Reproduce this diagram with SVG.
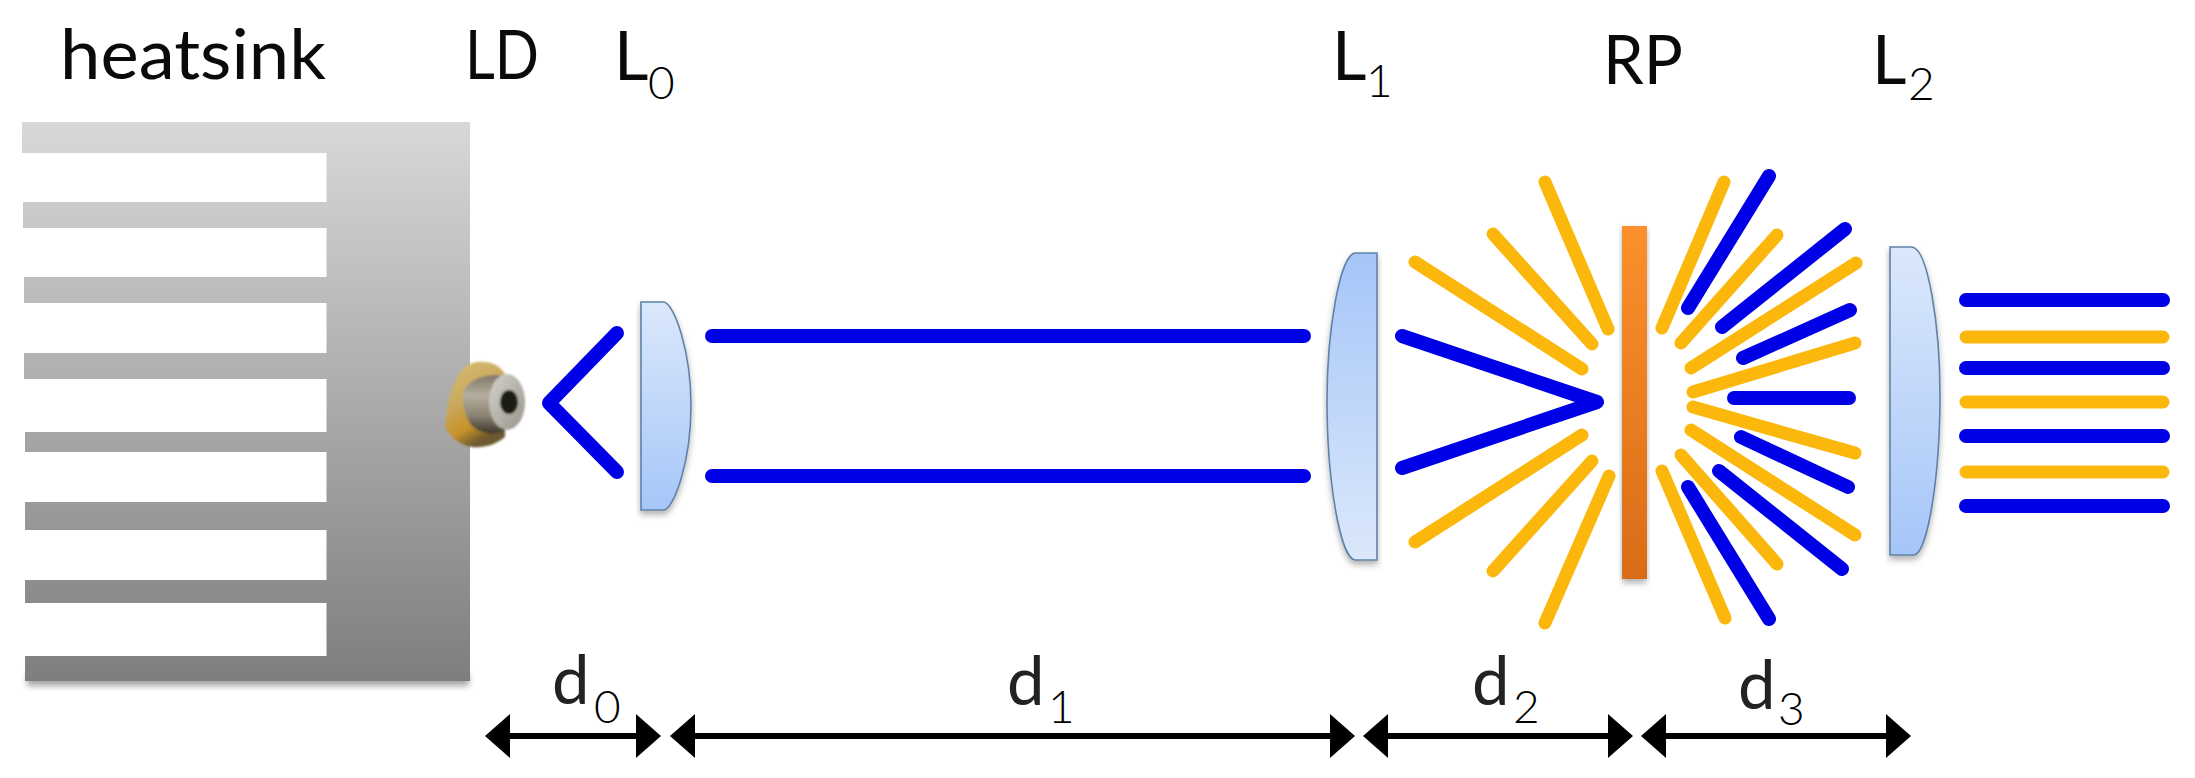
<svg xmlns="http://www.w3.org/2000/svg" width="2195" height="778" viewBox="0 0 2195 778">
<style>
text{font-family:"Lato","Carlito","Liberation Sans",sans-serif;fill:#0a0a0a}
.m{font-size:67px}.s{font-size:46px}.t{font-size:46px;font-weight:300;fill:#000}.d{font-size:67px;fill:#222}
.b,.y{fill:none;stroke-linecap:round;stroke-linejoin:round}
.b{stroke:#0000e6;stroke-width:14px}
.y{stroke:#fbb70b;stroke-width:13px}
.a{stroke:#000;stroke-width:6px;fill:none;marker-start:url(#hs);marker-end:url(#he)}
.lens{stroke:#5f82a8;stroke-width:1.6px;filter:url(#sh)}
</style>
<defs>
<linearGradient id="hg" x1="0" y1="0" x2="0" y2="1"><stop offset="0" stop-color="#d8d8d8"/><stop offset="1" stop-color="#7e7e7e"/></linearGradient>
<linearGradient id="ld" x1="0" y1="0" x2="0" y2="1"><stop offset="0" stop-color="#dbe8fb"/><stop offset="1" stop-color="#a6c6f8"/></linearGradient>
<linearGradient id="lu" x1="0" y1="1" x2="0" y2="0"><stop offset="0" stop-color="#dbe8fb"/><stop offset="1" stop-color="#a6c6f8"/></linearGradient>
<linearGradient id="og" x1="0" y1="0" x2="0" y2="1"><stop offset="0" stop-color="#fc902d"/><stop offset="1" stop-color="#d96c17"/></linearGradient>
<linearGradient id="gold" x1="0" y1="0" x2="0.4" y2="1"><stop offset="0" stop-color="#d8bf72"/><stop offset=".5" stop-color="#c9a85c"/><stop offset=".8" stop-color="#c8922a"/><stop offset="1" stop-color="#6e5a30"/></linearGradient>
<linearGradient id="can" x1="0" y1="0" x2="0" y2="1"><stop offset="0" stop-color="#7f7868"/><stop offset=".35" stop-color="#b5ae9e"/><stop offset=".7" stop-color="#8a8272"/><stop offset="1" stop-color="#3f372a"/></linearGradient>
<linearGradient id="face" x1="0" y1="0" x2="1" y2="1"><stop offset="0" stop-color="#d4d2ca"/><stop offset="1" stop-color="#98958c"/></linearGradient>
<filter id="sh" x="-10%" y="-10%" width="120%" height="120%"><feDropShadow dx="0" dy="4" stdDeviation="3" flood-color="#000" flood-opacity=".3"/></filter>
<filter id="soft" x="-10%" y="-10%" width="120%" height="120%"><feGaussianBlur stdDeviation="1.2"/></filter>
<filter id="blur" x="-5%" y="-100%" width="110%" height="300%"><feGaussianBlur stdDeviation="3"/></filter>
<marker id="he" markerUnits="userSpaceOnUse" markerWidth="26" markerHeight="44" refX="1" refY="22" orient="auto"><path d="M0,0 L25,22 L0,44Z"/></marker>
<marker id="hs" markerUnits="userSpaceOnUse" markerWidth="26" markerHeight="44" refX="25" refY="22" orient="auto"><path d="M25,0 L0,22 L25,44Z"/></marker>
</defs>
<rect width="2195" height="778" fill="#fff"/>

<g id="heatsink">
<rect x="27" y="674" width="442" height="12" fill="#000" opacity=".35" filter="url(#blur)"/>
<path fill="url(#hg)" d="M22,122 H470 V681 H25 V656 H326.500 V603 H25 V580 H326.500 V530 H25 V502 H326.500 V452 H25 V432 H326.500 V379 H24 V353 H326.500 V303 H24 V277 H326.500 V228 H23 V202 H326.500 V153 H22 Z"/>
<text class="m" x="60" y="79" textLength="266" lengthAdjust="spacingAndGlyphs" style="font-size:70px">heatsink</text>
</g>
<g id="LD">
<g filter="url(#soft)">
<path d="M445,427 C447,400 455,364 477,362 C492,361 500,366 505,374 L505,437 C495,445 485,448 472,447 C460,445 450,437 445,427Z" fill="url(#gold)"/>
<path d="M463,393 C468,380 482,374 500,375 L504,431 C492,436 480,433 471,425 C465,415 462,403 463,393Z" fill="url(#can)"/>
<ellipse cx="507" cy="402" rx="18" ry="28" fill="url(#face)"/>
<ellipse cx="509" cy="402" rx="9" ry="12" fill="#1c1a18"/>
</g>
<text class="m" x="465" y="79" textLength="74" lengthAdjust="spacingAndGlyphs">LD</text>
</g>
<g id="L0">
<path class="lens" fill="url(#ld)" d="M641,302 H664 C674,304 691,350 691,406 C691,462 674,508 664,510 H641 Z"/>
<text class="m" x="614" y="80">L</text><text class="t" x="648" y="99">0</text>
</g>
<g id="L1">
<path class="lens" fill="url(#lu)" d="M1377,253 H1355 C1340,255 1327,330 1327,400 C1327,480 1340,558 1355,560 H1377 Z"/>
<text class="m" x="1332" y="80">L</text><text class="t" x="1366" y="97">1</text>
</g>
<g id="RP">
<rect x="1622" y="226" width="25" height="353" fill="url(#og)" filter="url(#sh)"/>
<text class="m" x="1603" y="84" textLength="80" lengthAdjust="spacingAndGlyphs">RP</text>
</g>
<g id="L2">
<path class="lens" fill="url(#ld)" d="M1890,247 H1912 C1928,249 1940,325 1940,395 C1940,475 1928,553 1914,555 H1890 Z"/>
<text class="m" x="1872" y="84">L</text><text class="t" x="1908" y="100">2</text>
</g>

<g id="connectors">
<g id="beams-blue" class="b">
<path d="M617,333 L549,403 L617,472"/>
<path d="M712,336 H1304"/><path d="M712,476 H1304"/>
<path d="M1402,336 L1597,402 L1402,468"/>
<path d="M1769,176 L1688,308"/><path d="M1845,229 L1722,327"/><path d="M1850,310 L1743,358"/>
<path d="M1734,398 H1849"/>
<path d="M1741,437 L1848,487"/><path d="M1719,471 L1842,569"/><path d="M1688,487 L1769,619"/>
<path d="M1966,300 H2163"/><path d="M1966,368 H2163"/><path d="M1966,436 H2163"/><path d="M1966,506 H2163"/>
</g>
<g id="beams-yellow" class="y">
<path d="M1415,262 L1582,369"/><path d="M1493,234 L1592,344"/><path d="M1545,182 L1608,329"/>
<path d="M1415,542 L1582,435"/><path d="M1493,571 L1592,461"/><path d="M1545,623 L1609,476"/>
<path d="M1724,182 L1662,328"/><path d="M1777,235 L1681,343"/><path d="M1856,263 L1691,368"/><path d="M1855,343 L1693,392"/>
<path d="M1693,407 L1855,453"/><path d="M1691,430 L1855,535"/><path d="M1681,455 L1777,564"/><path d="M1662,471 L1725,618"/>
<path d="M1966,337 H2163"/><path d="M1966,402 H2163"/><path d="M1966,472 H2163"/>
</g>
<g id="dimensions">
<path class="a" d="M510,736 H637"/>
<path class="a" d="M695,736 H1331"/>
<path class="a" d="M1388,736 H1609"/>
<path class="a" d="M1666,736 H1887"/>
</g>
</g>
<g id="dimension-labels">
<text class="d" x="552" y="704">d</text><text class="t" x="594" y="723">0</text>
<text class="d" x="1007" y="705">d</text><text class="t" x="1048" y="723">1</text>
<text class="d" x="1472" y="705">d</text><text class="t" x="1513" y="723">2</text>
<text class="d" x="1738" y="709">d</text><text class="t" x="1778" y="725">3</text>
</g>
</svg>
